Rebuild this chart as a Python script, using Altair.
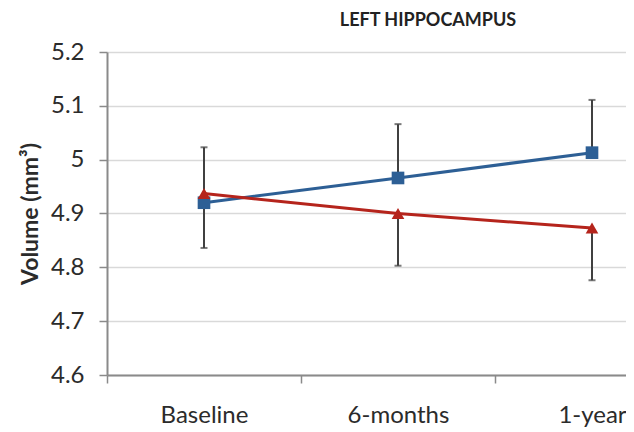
import altair as alt
import pandas as pd

categories = ["Baseline", "6-months", "1-year"]
blue_values = [4.920, 4.966, 5.013]
red_values = [4.937, 4.900, 4.873]
blue_err_plus = [0.103, 0.100, 0.098]
red_err_minus = [0.101, 0.097, 0.097]
y_ticks = [4.6, 4.7, 4.8, 4.9, 5.0, 5.1, 5.2]
chart_title = "LEFT HIPPOCAMPUS"
y_title = "Volume (mm³)"

rows = []
for s, vals, errs, sign in (("blue", blue_values, blue_err_plus, 1), ("red", red_values, red_err_minus, -1)):
    for c, v, e in zip(categories, vals, errs):
        rows.append({"cat": c, "series": s, "value": v, "end": v + sign * e})
df = pd.DataFrame(rows)

FONT = "Lato"
x_scale = alt.Scale(type="band", domain=categories, range=[0, 582], paddingInner=0, paddingOuter=0)
x_axis = alt.Axis(title=None, tickBand="extent", labelFont=FONT, labelFontSize=24,
                  labelColor="#2b2b2b", labelPadding=20, labelAngle=0,
                  domainColor="#8a8a8a", domainWidth=2, tickColor="#8a8a8a",
                  tickSize=8, tickWidth=1.5, grid=False)
y_scale = alt.Scale(domain=[4.6, 5.2], nice=False, zero=False)
y_axis = alt.Axis(title=y_title, values=y_ticks, format="~g", labelFont=FONT, labelFontSize=24,
                  labelColor="#2b2b2b", labelPadding=15, titleFont=FONT, titleFontSize=23,
                  titleFontWeight="bold", titleColor="#2b2b2b", titlePadding=8,
                  domainColor="#8a8a8a", domainWidth=2, tickColor="#8a8a8a", tickSize=8,
                  tickWidth=1.5, gridColor="#d9d9d9", gridWidth=1.5)

X = alt.X("cat:N", scale=x_scale, sort=categories, bandPosition=0.5, axis=x_axis)
color = alt.Color("series:N", scale=alt.Scale(domain=["blue", "red"], range=["#2D5F95", "#B5241C"]), legend=None)
shape = alt.Shape("series:N", scale=alt.Scale(domain=["blue", "red"], range=["square", "triangle-up"]), legend=None)

base = alt.Chart(df)
rules = base.mark_rule(color="#404040", strokeWidth=2).encode(
    x=X, y=alt.Y("value:Q", scale=y_scale, axis=y_axis), y2="end:Q")
caps = base.mark_tick(color="#404040", thickness=2, size=7).encode(
    x=X, y=alt.Y("end:Q", scale=y_scale, axis=y_axis))
lines = base.mark_line(strokeWidth=3).encode(
    x=X, y=alt.Y("value:Q", scale=y_scale, axis=y_axis), color=color, detail="series:N")
points = base.mark_point(filled=True, opacity=1, size=160).encode(
    x=X, y=alt.Y("value:Q", scale=y_scale, axis=y_axis), color=color, shape=shape)

title = alt.Chart(pd.DataFrame({"t": [chart_title]})).mark_text(
    font=FONT, fontSize=18, fontWeight="bold", color="#222222", align="center", baseline="middle"
).encode(text="t:N", x=alt.value(321), y=alt.value(-31))

chart = alt.layer(rules, caps, lines, points, title).properties(
    width=519, height=323,
    autosize=alt.AutoSizeParams(type="none"),
    padding={"left": 99, "top": 44, "right": 0, "bottom": 56},
    background="white",
).configure_view(stroke=None)

chart.save("out.html", embed_options={"renderer": "svg", "actions": False})
